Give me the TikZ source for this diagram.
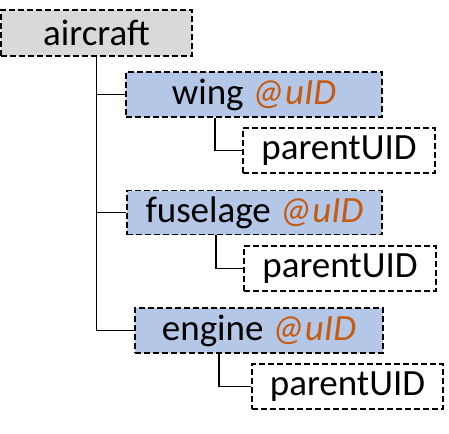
\documentclass[tikz,border=0pt]{standalone}
\usepackage{fontspec}
\setmainfont{Carlito}
\definecolor{aircraftgrey}{HTML}{D9D9D9}
\definecolor{partblue}{HTML}{B4C7E7}
\definecolor{uidorange}{HTML}{C55A11}

\begin{document}
\begin{tikzpicture}[x=1pt,y=1pt,
    elem/.style={draw,dashed,line width=1.8pt,dash pattern=on 6pt off 3pt,inner sep=0pt,
      minimum height=45pt,font=\fontsize{37}{41}\selectfont}, % dashed element box
    attrbox/.style={elem,minimum width=192pt}, % parentUID attribute
    link/.style={line width=1.3pt}]
        \useasboundingbox (0,0) rectangle (449,-433);
        \node[elem,fill=aircraftgrey,minimum width=191pt,minimum height=46pt] (aircraft) at (96.5,-33) {aircraft}; % root
        \node[elem,fill=partblue,minimum width=256pt] (wing) at (254,-94.5) {wing \textcolor{uidorange}{\itshape @uID}};
        \node[attrbox] (wingpuid) at (339,-150.5) {parentUID};
        \node[elem,fill=partblue,minimum width=255pt,minimum height=44pt] (fuselage) at (254.5,-212.5) {fuselage \textcolor{uidorange}{\itshape @uID}};
        \node[attrbox] (fuselagepuid) at (340,-268.5) {parentUID};
        \node[elem,fill=partblue,minimum width=248pt] (engine) at (259,-330.5) {engine \textcolor{uidorange}{\itshape @uID}};
        \node[attrbox,minimum width=191pt] (enginepuid) at (347.5,-386.5) {parentUID};
        % tree lines from aircraft
        \draw[link] (aircraft.south) |- (wing.west);
        \draw[link] (aircraft.south) |- (fuselage.west);
        \draw[link] (aircraft.south) |- (engine.west);
        % tree lines to the attributes
        \draw[link] ([xshift=90pt]wing.south west) |- (wingpuid.west);
        \draw[link] ([xshift=90pt]fuselage.south west) |- (fuselagepuid.west);
        \draw[link] ([xshift=85pt]engine.south west) |- (enginepuid.west);
      \end{tikzpicture}
\end{document}
